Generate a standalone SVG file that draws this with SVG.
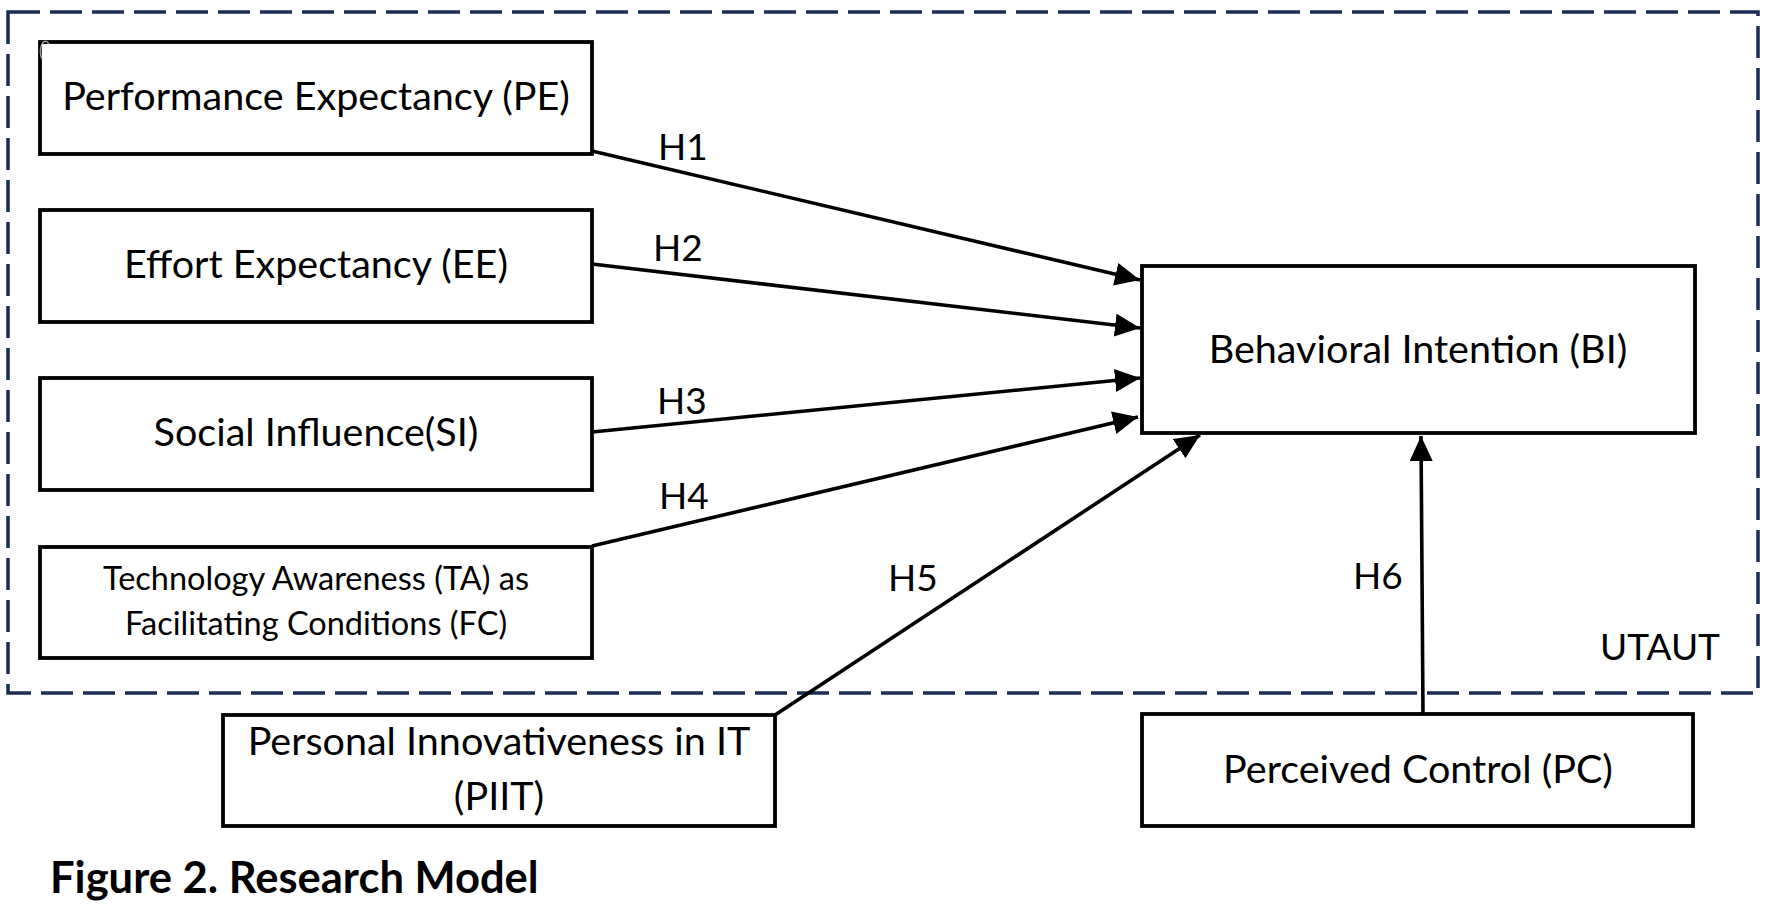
<svg xmlns="http://www.w3.org/2000/svg" width="1773" height="906" viewBox="0 0 1773 906">
<style>
.box{fill:#fff;stroke:#000;stroke-width:3.8}
.t{font-family:Lato,"Noto Sans",sans-serif;font-size:39.5px;fill:#000;text-anchor:middle}
.s{font-size:32.5px}
.h{font-family:Lato,"Noto Sans",sans-serif;font-size:37px;fill:#000}
.c{stroke:#000;stroke-width:3.6;fill:none;marker-end:url(#ah)}
</style>
<defs>
<marker id="ah" markerUnits="userSpaceOnUse" markerWidth="26" markerHeight="24" refX="25" refY="11.5" orient="auto">
<path d="M0,0 L25,11.5 L0,23 z" fill="#000"/>
</marker>
</defs>
<rect width="1773" height="906" fill="#fff"/>
<g id="utaut">
<rect x="8" y="12" width="1750" height="681" fill="none" stroke="#1c2d55" stroke-width="3.5" stroke-dasharray="32 10"/>
<text class="h" x="1600" y="660">UTAUT</text>
</g>
<g id="pe">
<rect class="box" x="40" y="42" width="552" height="112"/>
<path d="M42,59 A4,8 0 0 1 49,44" fill="none" stroke="#999" stroke-width="1.5"/>
<text class="t" x="316" y="110">Performance Expectancy (PE)</text>
</g>
<g id="ee">
<rect class="box" x="40" y="210" width="552" height="112"/>
<text class="t" x="316" y="278">Effort Expectancy (EE)</text>
</g>
<g id="si">
<rect class="box" x="40" y="378" width="552" height="112"/>
<text class="t" x="316" y="446">Social Influence(SI)</text>
</g>
<g id="ta">
<rect class="box" x="40" y="547" width="552" height="111"/>
<text class="t s" x="316" y="590">Technology Awareness (TA) as</text>
<text class="t s" x="316" y="635">Facilitating Conditions (FC)</text>
</g>
<g id="bi">
<rect class="box" x="1142" y="266" width="553" height="167"/>
<text class="t" x="1418" y="363">Behavioral Intention (BI)</text>
</g>
<g id="piit">
<rect class="box" x="223" y="715" width="552" height="111"/>
<text class="t" x="499" y="755">Personal Innovativeness in IT</text>
<text class="t" x="499" y="810">(PIIT)</text>
</g>
<g id="pc">
<rect class="box" x="1142" y="714" width="551" height="112"/>
<text class="t" x="1418" y="783">Perceived Control (PC)</text>
</g>
<g id="connectors">
<line class="c" x1="592" y1="151" x2="1140" y2="280"/>
<line class="c" x1="592" y1="264" x2="1140" y2="328"/>
<line class="c" x1="592" y1="432" x2="1140" y2="378"/>
<line class="c" x1="592" y1="546" x2="1138" y2="417"/>
<line class="c" x1="775" y1="715" x2="1200" y2="435"/>
<line class="c" x1="1423" y1="714" x2="1421" y2="436"/>
<text class="h" x="658" y="160">H1</text>
<text class="h" x="653" y="261">H2</text>
<text class="h" x="657" y="414">H3</text>
<text class="h" x="659" y="509">H4</text>
<text class="h" x="888" y="591">H5</text>
<text class="h" x="1353" y="589">H6</text>
</g>
<text x="50" y="893" font-family="Lato,'Noto Sans',sans-serif" font-weight="bold" font-size="43.5" fill="#000">Figure 2. Research Model</text>
</svg>
